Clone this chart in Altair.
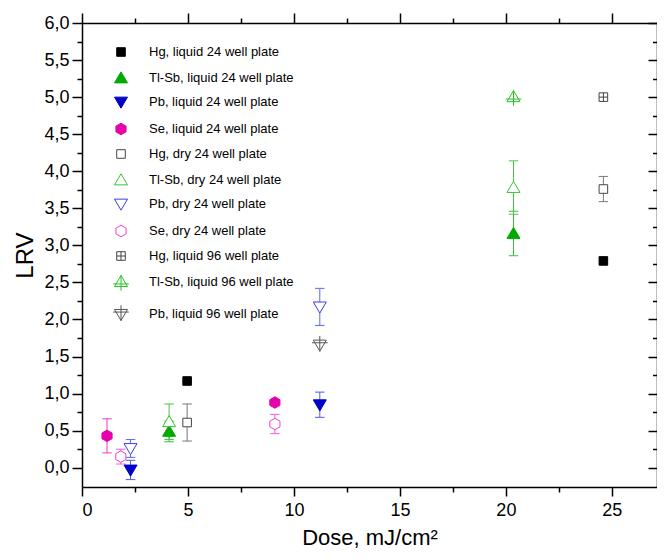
import altair as alt
import pandas as pd

# ---------------- data ----------------
series = [
    "Hg, liquid 24 well plate",
    "Tl-Sb, liquid 24 well plate",
    "Pb, liquid 24 well plate",
    "Se, liquid 24 well plate",
    "Hg, dry 24 well plate",
    "Tl-Sb, dry 24 well plate",
    "Pb, dry 24 well plate",
    "Se, dry 24 well plate",
    "Hg, liquid 96 well plate",
    "Tl-Sb, liquid 96 well plate",
    "Pb, liquid 96 well plate",
]
dose = [
    [4.96, 24.6],
    [4.11, 20.36],
    [2.29, 11.22],
    [1.18, 9.10],
    [4.96, 24.6],
    [4.11, 20.36],
    [2.29, 11.22],
    [1.83, 9.10],
    [24.6],
    [20.36],
    [11.22],
]
lrv = [
    [1.17, 2.79],
    [0.49, 3.16],
    [-0.03, 0.85],
    [0.43, 0.88],
    [0.61, 3.76],
    [0.62, 3.78],
    [0.26, 2.17],
    [0.15, 0.59],
    [5.0],
    [5.0],
    [1.66],
]
err = [
    [0.0, 0.0],
    [0.14, 0.30],
    [0.13, 0.17],
    [0.23, 0.0],
    [0.25, 0.17],
    [0.24, 0.36],
    [0.12, 0.25],
    [0.10, 0.13],
    [0.0],
    [0.0],
    [0.0],
]

# ---------------- styles ----------------
SQ = "M-0.66,-0.66H0.66V0.66H-0.66Z"
TU = "M0,-0.95L1,0.75L-1,0.75Z"
TD = "M0,0.95L1,-0.75L-1,-0.75Z"
HX = "M0,-0.88L0.78,-0.44L0.78,0.44L0,0.88L-0.78,0.44L-0.78,-0.44Z"
SQX = SQ + "M0,-0.66V0.66M-0.66,0H0.66"
TUX = "M0,-1L1,0.7L-1,0.7Z M0,-1.05V1.35 M-1.2,0.3H1.2"
TDX = "M0,1L1,-0.7L-1,-0.7Z M0,-1.35V1.05 M-1.2,-0.3H1.2"
shapes = [SQ, TU, TD, HX, SQ, TU, TD, HX, SQX, TUX, TDX]
fills = ["#000000", "#00aa00", "#0000c8", "#e600ac",
         "#ffffff", "#ffffff", "#ffffff", "#ffffff",
         "#ffffff", "#ffffff", "#ffffff"]
strokes = ["#000000", "#00aa00", "#0000c8", "#e600ac",
           "#444444", "#33c433", "#3c3cf0", "#f040d0",
           "#444444", "#22c422", "#555555"]
ecolors = ["#000000", "#33c433", "#4a5ce6", "#ec3cc8",
           "#777777", "#44c844", "#5a6af0", "#f060da",
           "#777777", "#33c433", "#777777"]

rows, errs, caps = [], [], []
for i, s in enumerate(series):
    for d, v, e in zip(dose[i], lrv[i], err[i]):
        rows.append({"series": s, "dose": d, "lrv": v})
        if e > 0:
            errs.append({"dose": d, "lo": v - e, "hi": v + e, "ec": ecolors[i]})
            caps.append({"dose": d, "val": v - e, "ec": ecolors[i]})
            caps.append({"dose": d, "val": v + e, "ec": ecolors[i]})

pts = pd.DataFrame(rows)
edf = pd.DataFrame(errs)
cdf = pd.DataFrame(caps)

W, H = 575, 464
FONT = "Liberation Sans"
xscale = alt.Scale(domain=[0, 27.13], nice=False, zero=False)
yscale = alt.Scale(domain=[-0.26, 6.0], nice=False, zero=False)
xvals = [i * 2.5 for i in range(11)]
yvals = [i * 0.25 for i in range(25)]

xmaj = "datum.value % 5 === 0"
ymaj = "datum.value % 0.5 === 0"

x_bottom = alt.Axis(
    values=xvals, orient="bottom", grid=False,
    labelExpr=f"{xmaj} ? format(datum.value, 'd') : ''",
    tickSize={"condition": {"test": xmaj, "value": 9}, "value": 5},
    labelFontSize=18, labelFont=FONT, labelColor="black", labelPadding=5,
    tickColor="black", tickWidth=1.5, domainColor="black", domainWidth=1.5,
    title="Dose, mJ/cm²", titleFontSize=22, titleFont=FONT,
    titleFontWeight="normal", titleColor="black", titlePadding=8,
)
y_left = alt.Axis(
    values=yvals, orient="left", grid=False,
    labelExpr=f"{ymaj} ? replace(format(datum.value, '.1f'), '.', ',') : ''",
    tickSize={"condition": {"test": ymaj, "value": 10}, "value": 5},
    labelFontSize=18, labelFont=FONT, labelColor="black", labelPadding=3,
    tickColor="black", tickWidth=1.5, domainColor="black", domainWidth=1.5,
    title="LRV", titleFontSize=24, titleFont=FONT,
    titleFontWeight="normal", titleColor="black", titlePadding=6,
)
x_top = alt.Axis(
    values=xvals, orient="top", grid=False, labels=False, title=None,
    tickSize={"condition": {"test": xmaj, "value": 10}, "value": 5},
    tickColor="black", tickWidth=1.5, domainColor="black", domainWidth=1.5,
)
# right frame: a left-oriented axis moved to the right edge, so its ticks point inward
y_right = alt.Axis(
    values=yvals, orient="left", offset=-W, grid=False, labels=False, title=None,
    tickSize={"condition": {"test": ymaj, "value": 9}, "value": 4.5},
    tickColor="black", tickWidth=1.5, domainColor="black", domainWidth=1.5,
)

err_layer = alt.Chart(edf).mark_rule(strokeWidth=1).encode(
    x=alt.X("dose:Q", scale=xscale, axis=x_bottom),
    y=alt.Y("lo:Q", scale=yscale, axis=y_left),
    y2="hi:Q",
    color=alt.Color("ec:N", scale=None),
)

cap_layer = alt.Chart(cdf).mark_point(
    shape="M-1,0H1", size=90, strokeWidth=1, opacity=1, filled=False
).encode(
    x=alt.X("dose:Q", scale=xscale, axis=x_top),
    y=alt.Y("val:Q", scale=yscale, axis=y_right),
    stroke=alt.Stroke("ec:N", scale=None),
)

leg = alt.Legend(
    orient="none", legendX=32, legendY=22, title=None,
    labelFontSize=13, labelFont=FONT, labelColor="black",
    symbolSize=169, symbolStrokeWidth=1, rowPadding=10,
    labelOffset=21, padding=0, labelLimit=400,
)

pt_layer = alt.Chart(pts).mark_point(opacity=1, strokeWidth=1, size=169).encode(
    x=alt.X("dose:Q", scale=xscale, axis=None),
    y=alt.Y("lrv:Q", scale=yscale, axis=None),
    shape=alt.Shape("series:N", scale=alt.Scale(domain=series, range=shapes), legend=leg),
    fill=alt.Fill("series:N", scale=alt.Scale(domain=series, range=fills), legend=leg),
    stroke=alt.Stroke("series:N", scale=alt.Scale(domain=series, range=strokes), legend=leg),
)

chart = (
    alt.layer(err_layer, cap_layer, pt_layer)
    .resolve_axis(x="independent", y="independent")
    .properties(
        width=W, height=H,
        autosize=alt.AutoSizeParams(type="none"),
        padding={"left": 74, "top": 15, "right": 0, "bottom": 65},
        background="white",
    )
    .configure_view(stroke=None)
)

chart.save("out.html", embed_options={"renderer": "svg", "actions": False})
